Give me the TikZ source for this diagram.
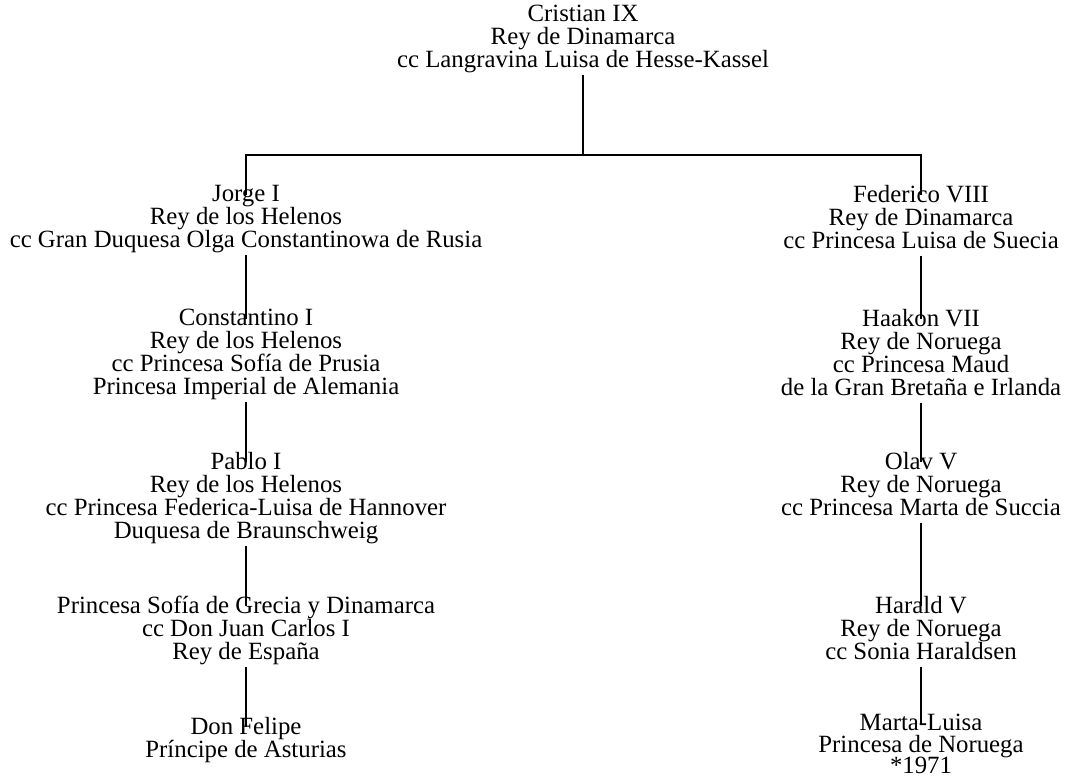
\documentclass[tikz,border=0pt]{standalone}
\usepackage{fontspec}
\setmainfont{Liberation Serif}

\begin{document}
\begin{tikzpicture}[x=0.5pt,y=-0.5pt,line width=0.8pt,
  every edge/.style={draw,shorten >=-5.5pt},
  main node/.style={anchor=north,inner sep=0pt,align=center,
    font=\fontsize{12.4}{11.5}\selectfont,
    execute at begin node=\strut,execute at end node=\strut}]

 \useasboundingbox (0,0) rectangle (1068,778);

 \node[main node] (cristian) at (583,4) {Cristian IX\\Rey de Dinamarca\\cc Langravina Luisa de Hesse-Kassel};
 \coordinate (split) at (583,155);

 % Grecia
 \node[main node] (jorge) at (246,184) {Jorge I\\Rey de los Helenos\\cc Gran Duquesa Olga Constantinowa de Rusia};
 \node[main node] (constantino) at (246,308) {Constantino I\\Rey de los Helenos\\cc Princesa Sofía de Prusia\\Princesa Imperial de Alemania};
 \node[main node] (pablo) at (246,451) {Pablo I\\Rey de los Helenos\\cc Princesa Federica-Luisa de Hannover\\Duquesa de Braunschweig};
 \node[main node] (sofia) at (246,595) {Princesa Sofía de Grecia y Dinamarca\\cc Don Juan Carlos I\\Rey de España};
 \node[main node] (felipe) at (246,716) {Don Felipe\\Príncipe de Asturias};

 % Noruega
 \node[main node] (federico) at (921,184) {Federico VIII\\Rey de Dinamarca\\cc Princesa Luisa de Suecia};
 \node[main node] (haakon) at (921,308) {Haakon VII\\Rey de Noruega\\cc Princesa Maud\\de la Gran Bretaña e Irlanda};
 \node[main node] (olav) at (921,451) {Olav V\\Rey de Noruega\\cc Princesa Marta de Succia};
 \node[main node] (harald) at (921,595) {Harald V\\Rey de Noruega\\cc Sonia Haraldsen};
 \node[main node,font=\fontsize{12.4}{10.9}\selectfont] (marta) at (921,713) {Marta-Luisa\\Princesa de Noruega\\*1971};

 \draw (cristian) -- (split);
 \draw[shorten <=-5.5pt,shorten >=-5.5pt] (jorge) |- (split) -| (federico);

 \path
    (jorge)       edge (constantino)
    (constantino) edge (pablo)
    (pablo)       edge (sofia)
    (sofia)       edge (felipe)
    (federico)    edge (haakon)
    (haakon)      edge (olav)
    (olav)        edge (harald)
    (harald)      edge (marta);

\end{tikzpicture}
\end{document}
